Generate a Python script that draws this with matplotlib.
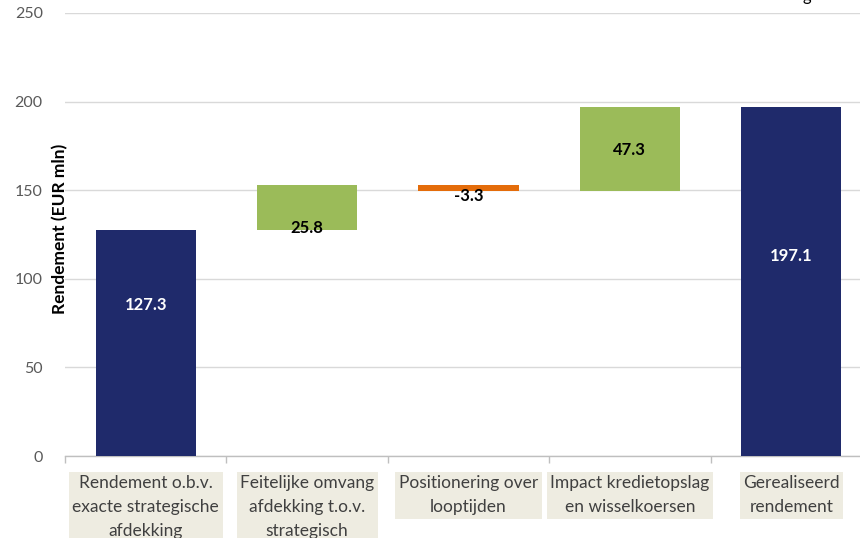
import matplotlib
matplotlib.use("Agg")
import matplotlib.pyplot as plt
import matplotlib.transforms as mtransforms

categories = [
    "Rendement o.b.v.\nexacte strategische\nafdekking",
    "Feitelijke omvang\nafdekking t.o.v.\nstrategisch",
    "Positionering over\nlooptijden",
    "Impact kredietopslag\nen wisselkoersen",
    "Gerealiseerd\nrendement",
]
values = [127.3, 25.8, -3.3, 47.3, 197.1]
kinds = ["total", "delta", "delta", "delta", "total"]
value_labels = ["127.3", "25.8", "-3.3", "47.3", "197.1"]
label_anchor = [85.0, 128.7, 147.0, 172.7, 113.0]
yticks = [0, 50, 100, 150, 200, 250]

navy = "#1F2A6B"
green = "#9BBB59"
orange = "#E46C0A"

plt.rcParams['font.family'] = ['Lato', 'DejaVu Sans']

fig = plt.figure(figsize=(8.6, 5.38), dpi=100)
ax = fig.add_axes([65/860, 82/538, 807/860, 443/538])

bottoms, heights, colors = [], [], []
running = 0.0
for v, k in zip(values, kinds):
    if k == "total":
        bottoms.append(0.0)
        heights.append(v)
        colors.append(navy)
        running = v
    else:
        if v >= 0:
            bottoms.append(running)
            heights.append(v)
            colors.append(green)
        else:
            bottoms.append(running + v)
            heights.append(-v)
            colors.append(orange)
        running += v

x = list(range(len(values)))
ax.bar(x, heights, bottom=bottoms, width=0.62, color=colors, zorder=3)

for i, (lab, ya) in enumerate(zip(value_labels, label_anchor)):
    col = "white" if kinds[i] == "total" else "black"
    ax.text(i, ya, lab, ha="center", va="center", fontsize=12,
            fontweight="bold", color=col, zorder=4)

ax.set_xlim(-0.5, len(values) - 0.5)
ax.set_ylim(0, 250)
ax.set_yticks(yticks)
ax.set_yticklabels([str(t) for t in yticks])
ax.grid(axis="y", color="#D9D9D9", linewidth=1.0, zorder=0)
ax.set_axisbelow(True)
for s in ["top", "right", "left"]:
    ax.spines[s].set_visible(False)
ax.spines["bottom"].set_color("#BFBFBF")
ax.spines["bottom"].set_linewidth(1.0)
ax.tick_params(axis="y", length=0, pad=16, labelsize=11.5, labelcolor="#595959")

# category separators as ticks
ax.set_xticks([i - 0.5 for i in range(len(values) + 1)])
ax.set_xticklabels([])
ax.tick_params(axis="x", length=5, color="#BFBFBF", width=1.0)

trans = mtransforms.blended_transform_factory(ax.transData, ax.transAxes)
for i, c in enumerate(categories):
    ax.text(i, -19/443, c, transform=trans, ha="center", va="top",
            fontsize=12.5, color="#404040", linespacing=1.62,
            multialignment="center",
            bbox=dict(boxstyle="square,pad=0.2", facecolor="#EEECE1",
                      edgecolor="none"))

ax.text(-5/807, 0.5 + 6/443, "Rendement (EUR mln)", transform=ax.transAxes,
        rotation=90, ha="center", va="center", fontsize=12.5,
        fontweight="bold", color="black")

fig.text(807/860, 1 - 1/538, "g", ha="center", va="baseline", fontsize=12,
         color="black")

fig.savefig("out.png", dpi=100)
